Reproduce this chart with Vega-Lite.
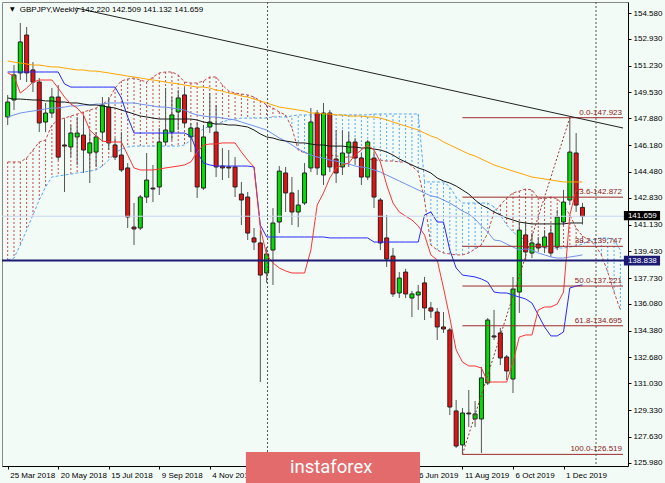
{
  "$schema": "https://vega.github.io/schema/vega-lite/v6.json",
  "width": 626,
  "height": 464,
  "autosize": {"type": "none"},
  "padding": {"left": 2, "top": 2, "right": 37, "bottom": 17},
  "background": "#F3FBF6",
  "config": {
    "view": {"stroke": "#888", "strokeWidth": 1},
    "axis": {"labelFont": "Liberation Sans", "labelFontSize": 8, "labelColor": "#000", "tickColor": "#000", "domainColor": "#000", "grid": false, "zindex": 1, "labelOverlap": false}
  },
  "datasets": {
    "bars": [
      {"d":"2018-03-25","o":147.97,"h":149.37,"l":147.46,"c":148.92,"tk":150.77,"kj":150.83,"sa":145.11,"sb":138.88,"bk":149.18,"og":151.53,"lb":147.97},
      {"d":"2018-04-01","o":149.05,"h":151.27,"l":148.41,"c":150.64,"tk":150.57,"kj":150.83,"sa":145.11,"sb":139.00,"bk":149.11,"og":151.46,"lb":148.10},
      {"d":"2018-04-08","o":150.77,"h":153.94,"l":150.32,"c":152.74,"tk":149.49,"kj":150.83,"sa":145.11,"sb":139.83,"bk":149.11,"og":151.40,"lb":148.22},
      {"d":"2018-04-15","o":153.18,"h":153.69,"l":150.19,"c":150.77,"tk":149.81,"kj":150.83,"sa":145.36,"sb":140.78,"bk":149.08,"og":151.34,"lb":148.29},
      {"d":"2018-04-22","o":150.96,"h":151.46,"l":149.56,"c":150.19,"tk":150.19,"kj":150.83,"sa":145.87,"sb":141.74,"bk":149.05,"og":151.27,"lb":148.35},
      {"d":"2018-04-29","o":150.19,"h":150.45,"l":147.01,"c":147.59,"tk":150.32,"kj":150.83,"sa":146.38,"sb":142.69,"bk":149.05,"og":151.27,"lb":148.41},
      {"d":"2018-05-06","o":147.65,"h":148.86,"l":147.01,"c":148.22,"tk":150.32,"kj":150.83,"sa":146.51,"sb":143.52,"bk":148.99,"og":151.21,"lb":148.48},
      {"d":"2018-05-13","o":148.22,"h":149.81,"l":147.90,"c":149.24,"tk":150.32,"kj":150.83,"sa":147.46,"sb":144.15,"bk":148.99,"og":151.15,"lb":148.54},
      {"d":"2018-05-20","o":149.24,"h":150.00,"l":145.23,"c":145.42,"tk":149.81,"kj":150.83,"sa":147.78,"sb":144.22,"bk":148.92,"og":151.15,"lb":148.54},
      {"d":"2018-05-27","o":146.19,"h":147.78,"l":143.20,"c":146.12,"tk":149.24,"kj":150.07,"sa":147.90,"sb":144.28,"bk":148.92,"og":151.08,"lb":148.60},
      {"d":"2018-06-03","o":146.06,"h":147.46,"l":145.42,"c":146.95,"tk":148.79,"kj":149.87,"sa":148.03,"sb":144.34,"bk":148.86,"og":151.02,"lb":148.67},
      {"d":"2018-06-10","o":146.70,"h":147.97,"l":144.92,"c":146.95,"tk":148.54,"kj":149.87,"sa":148.16,"sb":144.41,"bk":148.86,"og":150.96,"lb":148.67},
      {"d":"2018-06-17","o":146.82,"h":148.10,"l":144.41,"c":145.87,"tk":148.10,"kj":149.87,"sa":148.29,"sb":144.47,"bk":148.79,"og":150.96,"lb":148.73},
      {"d":"2018-06-24","o":145.68,"h":147.01,"l":143.77,"c":146.32,"tk":147.14,"kj":149.87,"sa":148.41,"sb":144.53,"bk":148.73,"og":150.89,"lb":148.73},
      {"d":"2018-07-01","o":145.74,"h":147.01,"l":144.79,"c":146.70,"tk":146.76,"kj":149.87,"sa":148.54,"sb":144.60,"bk":148.73,"og":150.89,"lb":148.79},
      {"d":"2018-07-08","o":147.01,"h":149.24,"l":146.51,"c":148.73,"tk":146.44,"kj":149.87,"sa":148.79,"sb":144.85,"bk":148.67,"og":150.83,"lb":148.79},
      {"d":"2018-07-15","o":148.60,"h":149.24,"l":145.87,"c":146.32,"tk":146.38,"kj":149.87,"sa":149.05,"sb":145.23,"bk":148.60,"og":150.77,"lb":148.86},
      {"d":"2018-07-22","o":146.19,"h":146.63,"l":145.23,"c":145.42,"tk":146.38,"kj":149.87,"sa":149.81,"sb":145.68,"bk":148.54,"og":150.70,"lb":148.86},
      {"d":"2018-07-29","o":145.55,"h":147.01,"l":144.47,"c":144.60,"tk":146.38,"kj":149.18,"sa":150.26,"sb":145.93,"bk":148.41,"og":150.64,"lb":148.86},
      {"d":"2018-08-05","o":144.73,"h":145.04,"l":140.91,"c":141.61,"tk":145.55,"kj":147.97,"sa":150.38,"sb":146.06,"bk":148.29,"og":150.57,"lb":148.86},
      {"d":"2018-08-12","o":140.97,"h":142.50,"l":139.83,"c":140.85,"tk":144.73,"kj":146.95,"sa":150.45,"sb":146.12,"bk":148.16,"og":150.51,"lb":148.86},
      {"d":"2018-08-19","o":140.91,"h":143.01,"l":140.78,"c":142.88,"tk":144.60,"kj":146.95,"sa":150.32,"sb":146.12,"bk":148.03,"og":150.45,"lb":148.79},
      {"d":"2018-08-26","o":142.88,"h":145.68,"l":142.50,"c":143.96,"tk":144.60,"kj":146.95,"sa":150.19,"sb":146.12,"bk":147.97,"og":150.38,"lb":148.73},
      {"d":"2018-09-02","o":143.45,"h":144.92,"l":142.56,"c":143.39,"tk":144.60,"kj":146.95,"sa":150.51,"sb":146.12,"bk":147.90,"og":150.32,"lb":148.67},
      {"d":"2018-09-09","o":143.52,"h":147.27,"l":143.01,"c":146.38,"tk":144.66,"kj":146.95,"sa":150.77,"sb":146.12,"bk":147.84,"og":150.26,"lb":148.60},
      {"d":"2018-09-16","o":146.38,"h":149.81,"l":146.19,"c":147.14,"tk":144.73,"kj":146.95,"sa":150.83,"sb":146.12,"bk":147.84,"og":150.19,"lb":148.60},
      {"d":"2018-09-23","o":147.01,"h":149.24,"l":146.51,"c":148.10,"tk":144.79,"kj":146.95,"sa":150.83,"sb":146.12,"bk":147.84,"og":150.13,"lb":148.54},
      {"d":"2018-09-30","o":148.29,"h":149.68,"l":147.14,"c":149.18,"tk":144.85,"kj":146.95,"sa":150.64,"sb":146.12,"bk":147.84,"og":150.07,"lb":148.48},
      {"d":"2018-10-07","o":149.37,"h":149.81,"l":147.33,"c":147.59,"tk":144.92,"kj":146.95,"sa":150.19,"sb":146.19,"bk":147.84,"og":150.00,"lb":148.41},
      {"d":"2018-10-14","o":146.70,"h":147.59,"l":145.74,"c":147.27,"tk":145.11,"kj":146.76,"sa":150.13,"sb":146.51,"bk":147.84,"og":149.94,"lb":148.22},
      {"d":"2018-10-21","o":147.27,"h":147.65,"l":142.82,"c":143.52,"tk":145.74,"kj":145.74,"sa":150.13,"sb":146.95,"bk":147.78,"og":149.87,"lb":148.10},
      {"d":"2018-10-28","o":143.45,"h":147.46,"l":143.33,"c":146.70,"tk":146.19,"kj":145.04,"sa":150.26,"sb":147.21,"bk":147.65,"og":149.87,"lb":148.03},
      {"d":"2018-11-04","o":147.33,"h":149.49,"l":146.95,"c":147.65,"tk":146.25,"kj":144.92,"sa":150.51,"sb":147.40,"bk":147.59,"og":149.81,"lb":147.97},
      {"d":"2018-11-11","o":147.01,"h":148.73,"l":144.15,"c":144.79,"tk":146.25,"kj":144.85,"sa":150.51,"sb":147.52,"bk":147.52,"og":149.68,"lb":147.97},
      {"d":"2018-11-18","o":144.85,"h":145.99,"l":143.96,"c":144.73,"tk":146.32,"kj":144.85,"sa":150.00,"sb":147.65,"bk":147.52,"og":149.62,"lb":147.90},
      {"d":"2018-11-25","o":144.79,"h":145.87,"l":144.09,"c":144.73,"tk":146.32,"kj":144.85,"sa":149.62,"sb":147.78,"bk":147.46,"og":149.49,"lb":147.84},
      {"d":"2018-12-02","o":144.79,"h":145.42,"l":142.88,"c":143.52,"tk":146.32,"kj":144.85,"sa":149.49,"sb":147.84,"bk":147.46,"og":149.43,"lb":147.78},
      {"d":"2018-12-09","o":143.07,"h":143.84,"l":141.10,"c":142.69,"tk":145.74,"kj":144.85,"sa":149.43,"sb":147.90,"bk":147.40,"og":149.30,"lb":147.65},
      {"d":"2018-12-16","o":142.88,"h":143.20,"l":140.15,"c":140.59,"tk":145.23,"kj":144.85,"sa":149.37,"sb":147.90,"bk":147.33,"og":149.24,"lb":147.52},
      {"d":"2018-12-23","o":140.28,"h":140.91,"l":139.51,"c":140.02,"tk":144.79,"kj":144.79,"sa":149.24,"sb":147.90,"bk":147.14,"og":149.11,"lb":147.40},
      {"d":"2018-12-30","o":139.96,"h":140.78,"l":131.12,"c":137.92,"tk":140.91,"kj":141.10,"sa":148.99,"sb":147.90,"bk":146.89,"og":148.99,"lb":147.27},
      {"d":"2019-01-06","o":138.05,"h":139.70,"l":137.42,"c":139.26,"tk":139.20,"kj":140.34,"sa":148.73,"sb":147.90,"bk":146.70,"og":148.86,"lb":147.14},
      {"d":"2019-01-13","o":139.51,"h":142.18,"l":137.29,"c":141.23,"tk":138.69,"kj":140.34,"sa":148.54,"sb":147.97,"bk":146.63,"og":148.73,"lb":146.89},
      {"d":"2019-01-20","o":141.29,"h":144.85,"l":140.59,"c":144.53,"tk":138.37,"kj":140.34,"sa":148.29,"sb":147.97,"bk":146.51,"og":148.60,"lb":146.63},
      {"d":"2019-01-27","o":144.41,"h":144.79,"l":141.93,"c":143.14,"tk":138.18,"kj":140.34,"sa":148.10,"sb":147.97,"bk":146.44,"og":148.54,"lb":146.44},
      {"d":"2019-02-03","o":143.14,"h":144.15,"l":141.10,"c":141.93,"tk":138.05,"kj":140.34,"sa":147.27,"sb":148.03,"bk":146.38,"og":148.48,"lb":146.19},
      {"d":"2019-02-10","o":141.93,"h":143.33,"l":140.97,"c":142.37,"tk":138.05,"kj":140.34,"sa":145.87,"sb":148.10,"bk":146.32,"og":148.41,"lb":145.93},
      {"d":"2019-02-17","o":142.50,"h":145.04,"l":142.37,"c":144.41,"tk":138.05,"kj":140.34,"sa":145.68,"sb":148.10,"bk":146.32,"og":148.35,"lb":145.74},
      {"d":"2019-02-24","o":144.73,"h":148.54,"l":144.47,"c":147.65,"tk":139.51,"kj":140.34,"sa":145.62,"sb":148.10,"bk":146.25,"og":148.22,"lb":145.55},
      {"d":"2019-03-03","o":148.22,"h":148.41,"l":144.28,"c":144.73,"tk":142.37,"kj":140.34,"sa":145.55,"sb":148.10,"bk":146.19,"og":148.22,"lb":145.42},
      {"d":"2019-03-10","o":144.28,"h":148.86,"l":143.65,"c":148.22,"tk":143.14,"kj":140.34,"sa":145.55,"sb":148.10,"bk":146.19,"og":148.16,"lb":145.36},
      {"d":"2019-03-17","o":148.22,"h":148.41,"l":144.47,"c":144.79,"tk":144.09,"kj":140.28,"sa":145.55,"sb":148.10,"bk":146.12,"og":148.16,"lb":145.23},
      {"d":"2019-03-24","o":145.30,"h":147.14,"l":143.77,"c":144.41,"tk":144.73,"kj":140.28,"sa":145.49,"sb":148.10,"bk":146.12,"og":148.10,"lb":145.17},
      {"d":"2019-03-31","o":144.79,"h":147.14,"l":144.28,"c":145.68,"tk":144.92,"kj":140.28,"sa":145.42,"sb":148.10,"bk":146.12,"og":148.10,"lb":145.04},
      {"d":"2019-04-07","o":145.68,"h":147.01,"l":144.79,"c":146.38,"tk":145.04,"kj":140.28,"sa":145.42,"sb":148.10,"bk":146.06,"og":148.03,"lb":144.98},
      {"d":"2019-04-14","o":146.38,"h":146.63,"l":144.92,"c":145.36,"tk":145.55,"kj":140.28,"sa":145.42,"sb":148.10,"bk":146.06,"og":148.03,"lb":144.85},
      {"d":"2019-04-21","o":145.36,"h":145.68,"l":143.65,"c":144.15,"tk":145.87,"kj":140.28,"sa":145.36,"sb":148.10,"bk":146.00,"og":148.03,"lb":144.79},
      {"d":"2019-04-28","o":144.15,"h":146.51,"l":143.96,"c":146.38,"tk":146.19,"kj":140.28,"sa":145.30,"sb":148.10,"bk":146.00,"og":147.97,"lb":144.73},
      {"d":"2019-05-05","o":145.36,"h":145.74,"l":142.18,"c":142.88,"tk":145.87,"kj":140.02,"sa":145.23,"sb":148.16,"bk":145.93,"og":147.97,"lb":144.60},
      {"d":"2019-05-12","o":142.69,"h":142.82,"l":139.51,"c":139.96,"tk":145.11,"kj":140.02,"sa":145.23,"sb":148.16,"bk":145.87,"og":147.90,"lb":144.47},
      {"d":"2019-05-19","o":140.28,"h":141.74,"l":138.43,"c":138.94,"tk":143.65,"kj":140.02,"sa":145.17,"sb":148.16,"bk":145.74,"og":147.78,"lb":144.28},
      {"d":"2019-05-26","o":139.13,"h":139.64,"l":136.53,"c":136.72,"tk":142.50,"kj":140.02,"sa":145.17,"sb":148.16,"bk":145.55,"og":147.65,"lb":144.09},
      {"d":"2019-06-02","o":136.78,"h":138.11,"l":136.46,"c":137.73,"tk":141.93,"kj":140.02,"sa":145.11,"sb":148.16,"bk":145.30,"og":147.52,"lb":143.90},
      {"d":"2019-06-09","o":138.11,"h":138.31,"l":136.46,"c":136.72,"tk":141.67,"kj":140.02,"sa":145.11,"sb":148.16,"bk":145.11,"og":147.40,"lb":143.71},
      {"d":"2019-06-16","o":136.46,"h":136.91,"l":135.25,"c":136.72,"tk":141.42,"kj":140.02,"sa":144.85,"sb":148.16,"bk":144.92,"og":147.27,"lb":143.52},
      {"d":"2019-06-23","o":136.65,"h":137.29,"l":135.70,"c":136.84,"tk":141.04,"kj":140.02,"sa":144.47,"sb":148.16,"bk":144.73,"og":147.14,"lb":143.33},
      {"d":"2019-06-30","o":137.42,"h":137.80,"l":135.06,"c":135.83,"tk":140.47,"kj":141.74,"sa":142.69,"sb":143.84,"bk":144.60,"og":146.95,"lb":143.14},
      {"d":"2019-07-07","o":135.83,"h":136.21,"l":135.19,"c":135.63,"tk":139.20,"kj":141.93,"sa":139.83,"sb":143.84,"bk":144.41,"og":146.76,"lb":142.95},
      {"d":"2019-07-14","o":135.57,"h":135.83,"l":133.79,"c":134.62,"tk":138.88,"kj":141.29,"sa":139.51,"sb":143.84,"bk":144.09,"og":146.63,"lb":142.88},
      {"d":"2019-07-21","o":134.62,"h":135.57,"l":134.24,"c":134.49,"tk":137.10,"kj":141.29,"sa":139.32,"sb":143.84,"bk":143.90,"og":146.38,"lb":142.69},
      {"d":"2019-07-28","o":134.43,"h":134.56,"l":129.02,"c":129.53,"tk":135.19,"kj":139.51,"sa":139.26,"sb":143.52,"bk":143.77,"og":146.19,"lb":142.50},
      {"d":"2019-08-04","o":129.28,"h":129.98,"l":126.93,"c":127.05,"tk":133.16,"kj":138.37,"sa":139.20,"sb":142.88,"bk":143.58,"og":146.00,"lb":142.25},
      {"d":"2019-08-11","o":127.12,"h":129.47,"l":126.52,"c":129.15,"tk":132.39,"kj":137.92,"sa":139.20,"sb":142.50,"bk":143.33,"og":145.81,"lb":141.99},
      {"d":"2019-08-18","o":129.15,"h":130.61,"l":128.26,"c":129.09,"tk":132.14,"kj":137.86,"sa":139.32,"sb":142.50,"bk":143.07,"og":145.62,"lb":141.80},
      {"d":"2019-08-25","o":128.77,"h":129.91,"l":128.26,"c":129.09,"tk":132.14,"kj":137.80,"sa":139.58,"sb":142.50,"bk":142.69,"og":145.49,"lb":141.48},
      {"d":"2019-09-01","o":128.77,"h":132.08,"l":126.61,"c":131.38,"tk":132.01,"kj":137.67,"sa":139.83,"sb":142.50,"bk":142.37,"og":145.30,"lb":141.04},
      {"d":"2019-09-08","o":131.06,"h":135.19,"l":130.93,"c":135.06,"tk":131.12,"kj":137.48,"sa":140.59,"sb":142.50,"bk":142.18,"og":145.11,"lb":140.66},
      {"d":"2019-09-15","o":134.05,"h":135.70,"l":133.79,"c":133.98,"tk":131.12,"kj":136.84,"sa":141.93,"sb":142.25,"bk":141.93,"og":144.92,"lb":140.15},
      {"d":"2019-09-22","o":134.24,"h":134.56,"l":132.20,"c":132.65,"tk":131.12,"kj":136.78,"sa":142.37,"sb":141.74,"bk":141.74,"og":144.79,"lb":140.09},
      {"d":"2019-09-29","o":132.71,"h":132.84,"l":131.25,"c":131.82,"tk":131.12,"kj":136.78,"sa":142.82,"sb":141.10,"bk":141.55,"og":144.66,"lb":139.89},
      {"d":"2019-10-06","o":131.31,"h":137.80,"l":130.42,"c":137.03,"tk":132.39,"kj":136.65,"sa":143.14,"sb":140.66,"bk":141.42,"og":144.53,"lb":139.70},
      {"d":"2019-10-13","o":136.84,"h":141.29,"l":135.51,"c":140.78,"tk":133.98,"kj":136.52,"sa":143.26,"sb":140.34,"bk":141.29,"og":144.41,"lb":139.51},
      {"d":"2019-10-20","o":140.47,"h":141.23,"l":138.88,"c":139.39,"tk":134.11,"kj":136.40,"sa":143.39,"sb":140.15,"bk":141.23,"og":144.28,"lb":139.58},
      {"d":"2019-10-27","o":139.32,"h":140.59,"l":139.00,"c":139.96,"tk":134.11,"kj":136.14,"sa":143.33,"sb":139.96,"bk":141.17,"og":144.15,"lb":139.51},
      {"d":"2019-11-03","o":139.89,"h":140.34,"l":139.39,"c":139.64,"tk":135.70,"kj":135.38,"sa":142.82,"sb":139.77,"bk":141.17,"og":144.09,"lb":139.32},
      {"d":"2019-11-10","o":139.70,"h":140.78,"l":139.32,"c":140.34,"tk":135.89,"kj":134.62,"sa":142.76,"sb":139.64,"bk":141.17,"og":144.03,"lb":139.20},
      {"d":"2019-11-17","o":140.59,"h":141.04,"l":139.07,"c":139.32,"tk":135.89,"kj":134.05,"sa":142.88,"sb":139.64,"bk":141.17,"og":143.96,"lb":139.07},
      {"d":"2019-11-24","o":139.70,"h":142.06,"l":139.51,"c":141.61,"tk":136.08,"kj":134.05,"sa":142.76,"sb":139.64,"bk":141.17,"og":143.90,"lb":139.00},
      {"d":"2019-12-01","o":141.29,"h":143.33,"l":141.10,"c":142.56,"tk":136.84,"kj":134.30,"sa":142.37,"sb":139.64,"bk":141.17,"og":143.84,"lb":139.00},
      {"d":"2019-12-08","o":142.69,"h":147.923,"l":142.37,"c":145.74,"tk":141.74,"kj":137.10,"sa":141.74,"sb":139.70,"bk":141.23,"og":143.84,"lb":139.07},
      {"d":"2019-12-15","o":145.68,"h":146.95,"l":141.93,"c":142.37,"tk":143.33,"kj":137.22,"sa":140.91,"sb":139.77,"bk":141.23,"og":143.84,"lb":139.13},
      {"d":"2019-12-22","o":142.22,"h":142.509,"l":141.132,"c":141.659,"tk":143.39,"kj":137.29,"sa":140.40,"sb":139.89,"bk":141.23,"og":143.84,"lb":139.20},
      {"d":"2019-12-29","sa":140.15,"sb":140.09},
      {"d":"2020-01-05","sa":139.83,"sb":140.21},
      {"d":"2020-01-12","sa":139.20,"sb":140.28},
      {"d":"2020-01-19","sa":138.11,"sb":140.28},
      {"d":"2020-01-26","sa":136.84,"sb":140.15},
      {"d":"2020-02-02","sa":135.70,"sb":139.51}
    ],
    "fib": [
      {"p":147.923,"t":"0.0-147.923"},
      {"p":142.872,"t":"23.6-142.872"},
      {"p":139.747,"t":"38.2-139.747"},
      {"p":137.221,"t":"50.0-137.221"},
      {"p":134.695,"t":"61.8-134.695"},
      {"p":126.519,"t":"100.0-126.519"}
    ],
    "fibdiag": [
      {"d":"2019-08-11","p":126.519},
      {"d":"2019-12-08","p":147.923}
    ],
    "trend": [
      {"d":"2018-06-08T14:00:00Z","p":154.90},
      {"d":"2020-02-04T22:00:00Z","p":147.27}
    ],
    "seps": [
      {"d":"2019-01-07"},
      {"d":"2020-01-06"}
    ]
  },
  "data": {"name": "bars"},
  "layer": [
    {
      "mark": {"type": "rule", "strokeDash": [2, 2], "strokeWidth": 1},
      "encoding": {
        "x": {"field": "d", "type": "temporal", "title": null,
          "scale": {"type": "utc", "domain": [{"year": 2018, "month": 3, "date": 24, "hours": 6, "utc": true}, {"year": 2020, "month": 2, "date": 4, "hours": 22, "utc": true}]},
          "axis": {"orient": "bottom", "title": null, "tickSize": 3, "tickCount": 30, "labelPadding": 2, "labelAlign": "left", "labelBaseline": "top", "labelOffset": 2, "labelOverlap": false, "labelFlush": false, "zindex": 0,
            "labelExpr": "utcFormat(datum.value, '%-d %b %Y')",
            "values": [
              {"year": 2018, "month": 3, "date": 25, "utc": true},
              {"year": 2018, "month": 5, "date": 20, "utc": true},
              {"year": 2018, "month": 7, "date": 15, "utc": true},
              {"year": 2018, "month": 9, "date": 9, "utc": true},
              {"year": 2018, "month": 11, "date": 4, "utc": true},
              {"year": 2019, "month": 6, "date": 16, "utc": true},
              {"year": 2019, "month": 8, "date": 11, "utc": true},
              {"year": 2019, "month": 10, "date": 6, "utc": true},
              {"year": 2019, "month": 12, "date": 1, "utc": true}
            ]}},
        "y": {"field": "sa", "type": "quantitative", "title": null,
          "scale": {"domain": [125.78, 155.28], "nice": false, "zero": false},
          "axis": {"orient": "right", "title": null, "format": ".3f", "tickSize": 3, "tickCount": 40, "labelPadding": 2, "labelOverlap": false, "labelFlush": false, "zindex": 0,
            "values": [154.58, 152.93, 151.23, 149.53, 147.88, 146.18, 144.48, 142.83, 141.13, 139.43, 137.73, 136.08, 134.38, 132.68, 131.03, 129.33, 127.63, 125.98]}},
        "y2": {"field": "sb"},
        "color": {"condition": {"test": "datum.sa >= datum.sb", "value": "#C24A4A"}, "value": "#58A8F8"}
      }
    },
    {
      "mark": {"type": "line", "color": "#C24A4A", "strokeDash": [3, 2], "strokeWidth": 1},
      "encoding": {"x": {"field": "d", "type": "temporal"}, "y": {"field": "sa", "type": "quantitative", "title": null}}
    },
    {
      "mark": {"type": "line", "color": "#58A8F8", "strokeDash": [3, 2], "strokeWidth": 1},
      "encoding": {"x": {"field": "d", "type": "temporal"}, "y": {"field": "sb", "type": "quantitative", "title": null}}
    },
    {
      "transform": [{"filter": "isValid(datum.o)"}],
      "mark": {"type": "rule", "color": "#555", "strokeWidth": 1},
      "encoding": {"x": {"field": "d", "type": "temporal"}, "y": {"field": "l", "type": "quantitative", "title": null}, "y2": {"field": "h"}}
    },
    {
      "transform": [{"filter": "isValid(datum.o)"}],
      "mark": {"type": "bar", "width": 4, "stroke": "#222", "strokeWidth": 1},
      "encoding": {"x": {"field": "d", "type": "temporal"}, "y": {"field": "o", "type": "quantitative", "title": null}, "y2": {"field": "c"},
        "fill": {"condition": {"test": "datum.c >= datum.o", "value": "#00E000"}, "value": "#E81010"}}
    },
    {
      "mark": {"type": "line", "color": "#7090F0", "strokeWidth": 1},
      "encoding": {"x": {"field": "d", "type": "temporal"}, "y": {"field": "lb", "type": "quantitative", "title": null}}
    },
    {
      "mark": {"type": "line", "color": "#1A1A1A", "strokeWidth": 1},
      "encoding": {"x": {"field": "d", "type": "temporal"}, "y": {"field": "bk", "type": "quantitative", "title": null}}
    },
    {
      "mark": {"type": "line", "color": "#FFA500", "strokeWidth": 1},
      "encoding": {"x": {"field": "d", "type": "temporal"}, "y": {"field": "og", "type": "quantitative", "title": null}}
    },
    {
      "mark": {"type": "line", "color": "#2828FF", "strokeWidth": 1},
      "encoding": {"x": {"field": "d", "type": "temporal"}, "y": {"field": "kj", "type": "quantitative", "title": null}}
    },
    {
      "mark": {"type": "line", "color": "#FF3333", "strokeWidth": 1},
      "encoding": {"x": {"field": "d", "type": "temporal"}, "y": {"field": "tk", "type": "quantitative", "title": null}}
    },
    {
      "data": {"values": [{}]},
      "mark": {"type": "rule", "color": "#C9D7EE", "strokeWidth": 1},
      "encoding": {"y": {"datum": 141.659, "type": "quantitative"}}
    },
    {
      "data": {"values": [{}]},
      "mark": {"type": "rule", "color": "#1B1B73", "strokeWidth": 2},
      "encoding": {"y": {"datum": 138.838, "type": "quantitative"}}
    },
    {
      "data": {"name": "fib"},
      "mark": {"type": "rule", "color": "#9B2B2B", "strokeWidth": 1},
      "encoding": {
        "x": {"datum": {"year": 2019, "month": 8, "date": 11, "utc": true}, "type": "temporal"},
        "x2": {"datum": {"year": 2020, "month": 2, "date": 4, "hours": 22, "utc": true}},
        "y": {"field": "p", "type": "quantitative", "title": null}
      }
    },
    {
      "data": {"name": "fibdiag"},
      "mark": {"type": "line", "color": "#A03030", "strokeDash": [2, 2], "strokeWidth": 1},
      "encoding": {"x": {"field": "d", "type": "temporal"}, "y": {"field": "p", "type": "quantitative", "title": null}}
    },
    {
      "data": {"name": "trend"},
      "mark": {"type": "line", "color": "#222", "strokeWidth": 1},
      "encoding": {"x": {"field": "d", "type": "temporal"}, "y": {"field": "p", "type": "quantitative", "title": null}}
    },
    {
      "data": {"name": "seps"},
      "mark": {"type": "rule", "color": "#555", "strokeDash": [2, 2], "strokeWidth": 1},
      "encoding": {"x": {"field": "d", "type": "temporal"}}
    },
    {
      "data": {"name": "fib"},
      "mark": {"type": "text", "align": "right", "baseline": "bottom", "dx": -1, "dy": -1, "font": "Liberation Sans", "fontSize": 8, "color": "#8B1A1A"},
      "encoding": {
        "x": {"datum": {"year": 2020, "month": 2, "date": 4, "hours": 22, "utc": true}, "type": "temporal"},
        "y": {"field": "p", "type": "quantitative", "title": null},
        "text": {"field": "t"}
      }
    },
    {
      "data": {"values": [{}]},
      "mark": {"type": "text", "align": "left", "baseline": "alphabetic", "font": "Liberation Sans", "fontSize": 8, "color": "#000"},
      "encoding": {
        "x": {"datum": {"year": 2018, "month": 4, "date": 7, "hours": 10, "utc": true}, "type": "temporal"},
        "y": {"datum": 154.675, "type": "quantitative"},
        "text": {"value": "GBPJPY,Weekly  142.220 142.509 141.132 141.659"}
      }
    },
    {
      "data": {"values": [{}]},
      "mark": {"type": "text", "align": "left", "baseline": "alphabetic", "font": "DejaVu Sans", "fontSize": 6, "color": "#000"},
      "encoding": {
        "x": {"datum": {"year": 2018, "month": 3, "date": 27, "hours": 12, "utc": true}, "type": "temporal"},
        "y": {"datum": 154.70, "type": "quantitative"},
        "text": {"value": "▼"}
      }
    },
    {
      "data": {"values": [{}]},
      "mark": {"type": "rect", "color": "#000"},
      "encoding": {
        "x": {"datum": {"year": 2020, "month": 2, "date": 5, "hours": 22, "utc": true}, "type": "temporal"},
        "x2": {"datum": {"year": 2020, "month": 3, "date": 17, "utc": true}},
        "y": {"datum": 142.00, "type": "quantitative"},
        "y2": {"datum": 141.40}
      }
    },
    {
      "data": {"values": [{}]},
      "mark": {"type": "rect", "color": "#1B1B73"},
      "encoding": {
        "x": {"datum": {"year": 2020, "month": 2, "date": 5, "hours": 22, "utc": true}, "type": "temporal"},
        "x2": {"datum": {"year": 2020, "month": 3, "date": 17, "utc": true}},
        "y": {"datum": 139.15, "type": "quantitative"},
        "y2": {"datum": 138.52}
      }
    },
    {
      "data": {"values": [{}]},
      "mark": {"type": "text", "align": "left", "baseline": "middle", "dx": 4, "font": "Liberation Sans", "fontSize": 8, "color": "#FFFFFF"},
      "encoding": {
        "x": {"datum": {"year": 2020, "month": 2, "date": 5, "hours": 22, "utc": true}, "type": "temporal"},
        "y": {"datum": 141.70, "type": "quantitative"},
        "text": {"value": "141.659"}
      }
    },
    {
      "data": {"values": [{}]},
      "mark": {"type": "text", "align": "left", "baseline": "middle", "dx": 4, "font": "Liberation Sans", "fontSize": 8, "color": "#FFFFFF"},
      "encoding": {
        "x": {"datum": {"year": 2020, "month": 2, "date": 5, "hours": 22, "utc": true}, "type": "temporal"},
        "y": {"datum": 138.835, "type": "quantitative"},
        "text": {"value": "138.838"}
      }
    },
    {
      "data": {"values": [{}]},
      "mark": {"type": "rect", "color": "#E36B6B"},
      "encoding": {
        "x": {"datum": {"year": 2018, "month": 12, "date": 14, "utc": true}, "type": "temporal"},
        "x2": {"datum": {"year": 2019, "month": 6, "date": 25, "utc": true}},
        "y": {"datum": 126.67, "type": "quantitative"},
        "y2": {"datum": 124.70}
      }
    },
    {
      "data": {"values": [{}]},
      "mark": {"type": "text", "align": "center", "baseline": "alphabetic", "font": "Roboto", "fontSize": 18.5, "color": "#FFFFFF"},
      "encoding": {
        "x": {"datum": {"year": 2019, "month": 3, "date": 18, "hours": 12, "utc": true}, "type": "temporal"},
        "y": {"datum": 125.34, "type": "quantitative"},
        "text": {"value": "instaforex"}
      }
    }
  ]
}
